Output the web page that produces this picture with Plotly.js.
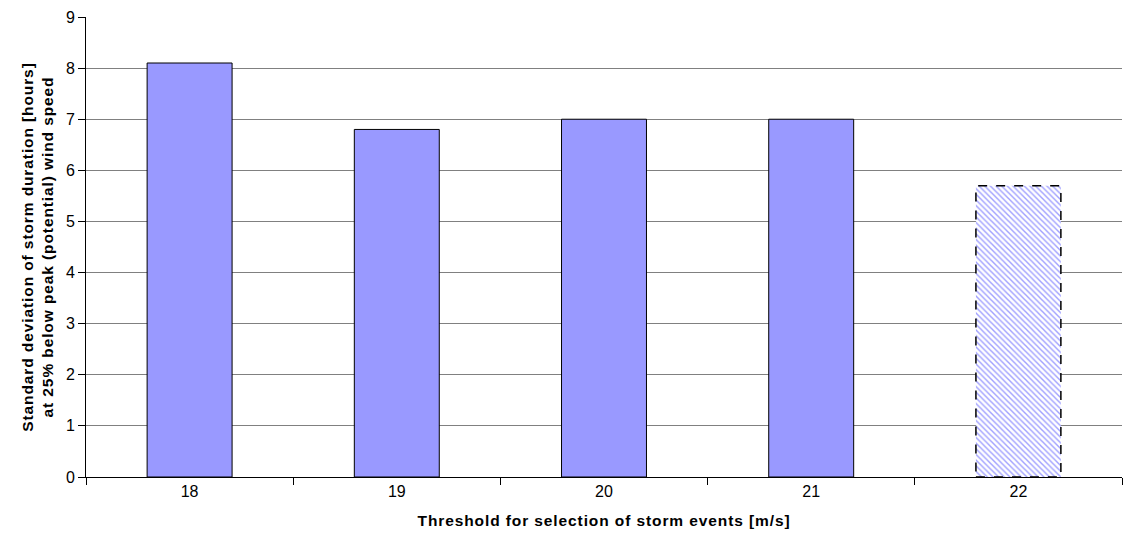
<!DOCTYPE html>
<html>
<head>
<meta charset="utf-8">
<script src="https://cdn.plot.ly/plotly-3.0.1.min.js"></script>
<style>
html,body{margin:0;padding:0;background:#fff;}
#chart{width:1124px;height:544px;}
.g-xtitle text, .g-ytitle text { letter-spacing: 0.9px; }
</style>
</head>
<body>
<div id="chart"></div>
<script>
const categories = ["18", "19", "20", "21", "22"];
const values = [8.1, 6.8, 7.0, 7.0, 5.7];
const estimated = [false, false, false, false, true];
const yTicks = [0, 1, 2, 3, 4, 5, 6, 7, 8, 9];

const barWidth = 0.41;
const solidX = [], solidY = [], hatchX = [], hatchY = [];
categories.forEach((c, i) => {
  if (estimated[i]) { hatchX.push(c); hatchY.push(values[i]); }
  else { solidX.push(c); solidY.push(values[i]); }
});

const traces = [
  {
    type: 'bar', x: solidX, y: solidY, width: barWidth,
    marker: {color: '#9999ff', line: {color: '#000000', width: 1}},
    hoverinfo: 'x+y', showlegend: false
  },
  {
    type: 'bar', x: hatchX, y: hatchY, width: barWidth,
    marker: {color: '#ffffff', line: {width: 0},
      pattern: {shape: '\\', fgcolor: '#a0a0ff', bgcolor: '#ffffff', size: 4, solidity: 0.35}},
    hoverinfo: 'x+y', showlegend: false
  }
];

const shapes = [];
categories.forEach((c, i) => {
  if (estimated[i]) {
    shapes.push({type: 'rect', xref: 'x', yref: 'y', x0: i - barWidth / 2, x1: i + barWidth / 2,
      y0: 0, y1: values[i], line: {color: '#000000', width: 1.5, dash: 'dash'}, fillcolor: 'rgba(0,0,0,0)'});
  }
});

const layout = {
  width: 1124, height: 544,
  margin: {l: 86, r: 2, t: 17, b: 67},
  paper_bgcolor: '#ffffff', plot_bgcolor: '#ffffff',
  font: {family: 'Liberation Sans, Arial, sans-serif', size: 16, color: '#000000'},
  xaxis: {
    type: 'category', categoryorder: 'array', categoryarray: categories,
    range: [-0.5, 4.5],
    showline: true, linecolor: '#000000', linewidth: 1,
    ticks: 'outside', ticklen: 7, tickcolor: '#000000', tickson: 'boundaries',
    showgrid: false, zeroline: false,
    tickfont: {size: 16},
    title: {text: '<b>Threshold for selection of storm events [m/s]</b>', font: {size: 15.5}, standoff: 15}
  },
  yaxis: {
    range: [0, 9], tickvals: yTicks,
    showline: true, linecolor: '#000000', linewidth: 1,
    ticks: 'outside', ticklen: 7, tickcolor: '#000000',
    showgrid: true, gridcolor: '#808080', gridwidth: 1,
    zeroline: false,
    tickfont: {size: 16},
    title: {text: '<b>Standard deviation of storm duration [hours]<br>at 25% below peak (potential) wind speed</b>', font: {size: 15.5}, standoff: 8}
  },
  shapes: shapes
};

Plotly.newPlot('chart', traces, layout, {displayModeBar: false, staticPlot: true});
</script>
</body>
</html>
